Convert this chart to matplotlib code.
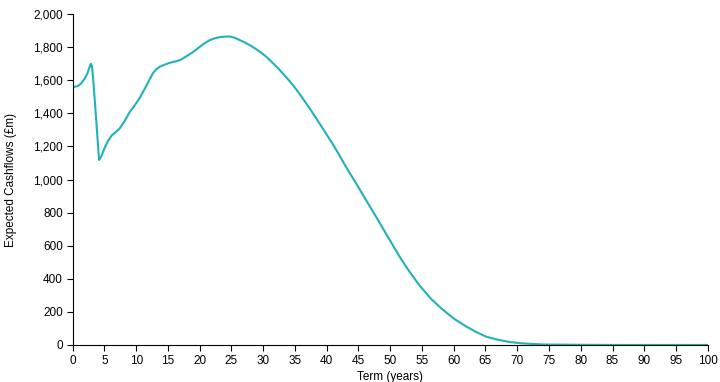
import matplotlib.pyplot as plt
from matplotlib.ticker import FuncFormatter, MultipleLocator

plt.rcParams['font.family'] = ['Liberation Sans', 'DejaVu Sans']

# term in years and expected cashflows (GBP m)
term = [0, 0.4, 0.8, 1.3, 1.9, 2.3, 2.6, 2.85, 3.0, 3.2, 3.7, 4.15, 4.5,
        5.0, 5.5, 6.1, 6.7, 7.4, 8.2, 9.0, 9.7, 10.5, 11.5, 12.6, 13.1,
        13.7, 14.5, 15.3, 16.1, 16.9, 17.9, 19.0, 20.0, 20.8, 21.6, 22.3,
        23.0, 23.8, 24.7, 25.5, 26.3, 27.1, 27.9, 28.7, 29.5, 30.4, 31.3,
        32.2, 33.1, 34.0, 34.9, 35.8, 37.1, 38.4, 39.7, 41.0, 42.0, 43.1,
        44.7, 46.2, 47.8, 49.1, 50.5, 51.5, 53.0, 54.6, 56.4, 58.3, 60.1,
        62.0, 63.5, 65.1, 67.0, 68.8, 70.6, 72.4, 74, 76, 80, 85, 90, 95,
        100]
cashflows = [1561, 1561, 1565, 1580, 1611, 1640, 1675, 1700, 1690, 1621,
             1360, 1118, 1140, 1188, 1230, 1265, 1285, 1309, 1355, 1410,
             1445, 1490, 1560, 1641, 1665, 1682, 1695, 1706, 1713, 1722,
             1745, 1772, 1802, 1825, 1843, 1853, 1860, 1864, 1865, 1857,
             1843, 1829, 1812, 1793, 1772, 1745, 1712, 1678, 1641, 1602,
             1560, 1514, 1442, 1367, 1289, 1211, 1146, 1072, 972, 875, 773,
             688, 597, 532, 445, 360, 280, 212, 157, 111, 79, 50, 31, 18,
             10, 6, 3, 2, 1, 0, 0, 0, 0]

fig = plt.figure(figsize=(7.2, 3.82), dpi=100)
ax = fig.add_axes([0.101, 0.097, 0.882, 0.866])

ax.plot(term, cashflows, color='#1fb3b8', lw=1.5, solid_joinstyle='round')

ax.set_xlim(0, 100)
ax.set_ylim(0, 2000)
ax.xaxis.set_major_locator(MultipleLocator(5))
ax.yaxis.set_major_locator(MultipleLocator(200))
ax.yaxis.set_major_formatter(FuncFormatter(lambda v, p: f'{int(v):,}'))

for s in ['top', 'right']:
    ax.spines[s].set_visible(False)
for s in ['left', 'bottom']:
    ax.spines[s].set_linewidth(0.8)
ax.tick_params(length=4, width=0.8, labelsize=8.5, colors='black', pad=3)

ax.set_xlabel('Term (years)', fontsize=8.5, labelpad=3)
ax.set_ylabel('Expected Cashflows (£m)', fontsize=8.5, labelpad=12)

fig.savefig('out.png', dpi=100)
